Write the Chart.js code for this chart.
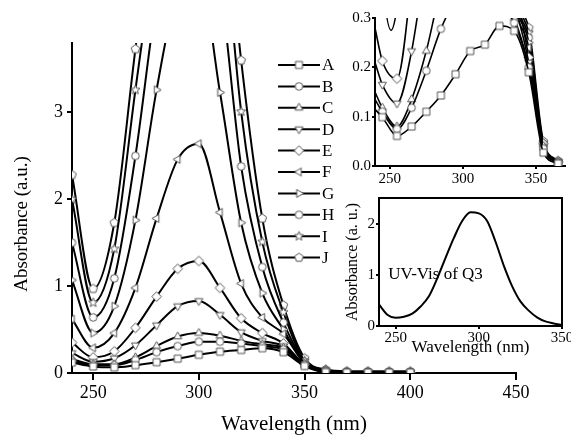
<!DOCTYPE html>
<html>
<head>
<script src="https://cdn.jsdelivr.net/npm/chart.js"></script>
<style>
  body { margin: 0; background: #fff; overflow: hidden; }
  #wrap { position: relative; width: 571px; height: 436px; overflow: hidden; }
  canvas { position: absolute; }
  #main { left: 0; top: 0; }
  #inset1 { left: 330px; top: 0; }
  #inset2 { left: 330px; top: 188px; }
</style>
</head>
<body>
<div id="wrap">
  <canvas id="main" width="571" height="436"></canvas>
  <canvas id="inset1" width="241" height="190"></canvas>
  <canvas id="inset2" width="260" height="170"></canvas>
</div>
<script>
// main plot: wavelength grid and the ten spectra
const wl = [240, 250, 260, 270, 280, 290, 300, 310, 320, 330, 340, 350, 360, 370, 380, 390, 400];
const A = [0.12, 0.075, 0.065, 0.09, 0.125, 0.165, 0.21, 0.245, 0.265, 0.285, 0.24, 0.08, 0.01, 0.005, 0.005, 0.005, 0.005];
const B = [0.14, 0.09, 0.09, 0.15, 0.24, 0.31, 0.36, 0.36, 0.34, 0.31, 0.27, 0.09, 0.012, 0.005, 0.005, 0.005, 0.005];
const C = [0.16, 0.1, 0.1, 0.18, 0.31, 0.42, 0.46, 0.43, 0.37, 0.33, 0.29, 0.09, 0.015, 0.006, 0.005, 0.005, 0.005];
const D = [0.23, 0.13, 0.17, 0.32, 0.55, 0.77, 0.83, 0.67, 0.47, 0.37, 0.31, 0.1, 0.015, 0.006, 0.005, 0.005, 0.005];
const E = [0.35, 0.18, 0.25, 0.52, 0.88, 1.2, 1.29, 0.98, 0.63, 0.46, 0.34, 0.1, 0.02, 0.008, 0.006, 0.005, 0.005];
const F = [0.62, 0.29, 0.46, 0.98, 1.78, 2.46, 2.64, 1.85, 1.03, 0.64, 0.45, 0.11, 0.02, 0.008, 0.006, 0.005, 0.005];
const G = [1.07, 0.46, 0.77, 1.76, 3.26, 4.4, 4.6, 3.23, 1.73, 0.92, 0.5, 0.12, 0.025, 0.01, 0.008, 0.006, 0.006];
const H = [1.5, 0.64, 1.09, 2.5, 4.3, 5.5, 5.7, 4.5, 2.38, 1.22, 0.58, 0.13, 0.03, 0.012, 0.01, 0.008, 0.008];
const I = [2.0, 0.81, 1.43, 3.26, 5.0, 6.5, 6.8, 5.5, 3.01, 1.51, 0.7, 0.14, 0.035, 0.015, 0.012, 0.01, 0.01];
const J = [2.28, 0.97, 1.73, 3.73, 5.5, 7.0, 7.3, 6.0, 3.6, 1.78, 0.78, 0.17, 0.04, 0.02, 0.02, 0.02, 0.02];
const names = ["A", "B", "C", "D", "E", "F", "G", "H", "I", "J"];
const shapes = ["square", "circle", "triUp", "triDown", "diamond", "triLeft", "triRight", "circle", "star", "pentagon"];
const xTicks = [250, 300, 350, 400, 450];
const yTicks = [0, 1, 2, 3];

// top inset (zoom of low absorbance)
const insetWl = [240, 245, 255, 265, 275, 285, 295, 305, 315, 325, 335, 345, 355, 365];
const insetA = [0.115, 0.099, 0.061, 0.08, 0.11, 0.143, 0.186, 0.233, 0.246, 0.284, 0.274, 0.19, 0.027, 0.005];
const insetB = [0.135, 0.11, 0.075, 0.118, 0.193, 0.278, 0.335, 0.36, 0.35, 0.33, 0.29, 0.2, 0.035, 0.006];
const insetC = [0.15, 0.118, 0.08, 0.135, 0.233, 0.36, 0.44, 0.45, 0.4, 0.35, 0.3, 0.2, 0.04, 0.007];
const insetD = [0.21, 0.165, 0.127, 0.233, 0.43, 0.66, 0.82, 0.76, 0.55, 0.41, 0.33, 0.21, 0.04, 0.008];
const insetE = [0.28, 0.213, 0.177, 0.38, 0.7, 1.05, 1.27, 1.15, 0.8, 0.53, 0.38, 0.22, 0.045, 0.008];
const insetFWl = [240, 245, 251, 255, 265, 325, 335, 345, 355, 365];
const insetF = [0.62, 0.38, 0.275, 0.32, 0.6, 0.6, 0.33, 0.24, 0.04, 0.008];
const insetHiWl = [325, 335, 345, 355, 365];
const insetG = [0.8, 0.36, 0.25, 0.04, 0.008];
const insetH = [1.0, 0.38, 0.26, 0.045, 0.009];
const insetI = [1.2, 0.4, 0.27, 0.045, 0.01];
const insetJ = [1.4, 0.42, 0.28, 0.05, 0.01];
const inset1XTicks = [250, 300, 350];
const inset1YTicks = [0, 0.1, 0.2, 0.3];

// bottom inset: UV-Vis of Q3
const q3Wl = [240, 245, 250, 255, 260, 265, 270, 275, 280, 285, 290, 295, 300, 305, 310, 315, 320, 325, 330, 335, 340, 345, 350];
const q3Abs = [0.42, 0.22, 0.16, 0.18, 0.24, 0.38, 0.58, 0.93, 1.33, 1.72, 2.05, 2.22, 2.2, 2.05, 1.65, 1.18, 0.78, 0.48, 0.3, 0.17, 0.09, 0.05, 0.02];
const inset2XTicks = [250, 300, 350];
const inset2YTicks = [0, 1, 2];

const SERIF = "Liberation Serif";

function makeMarker(shape) {
  const c = document.createElement("canvas");
  c.width = 13;
  c.height = 13;
  const g = c.getContext("2d");
  g.translate(6.5, 6.5);
  g.fillStyle = "#fff";
  g.strokeStyle = "#555";
  g.lineWidth = 1;
  g.beginPath();
  function poly(n, r, start) {
    for (let k = 0; k < n; k++) {
      const a = (start + k * 360 / n) * Math.PI / 180;
      if (k === 0) g.moveTo(r * Math.cos(a), r * Math.sin(a));
      else g.lineTo(r * Math.cos(a), r * Math.sin(a));
    }
  }
  if (shape === "square") g.rect(-3.5, -3.5, 7, 7);
  else if (shape === "circle") g.arc(0, 0, 3.8, 0, Math.PI * 2);
  else if (shape === "triUp") poly(3, 4.6, -90);
  else if (shape === "triDown") poly(3, 4.6, 90);
  else if (shape === "triLeft") poly(3, 4.6, 180);
  else if (shape === "triRight") poly(3, 4.6, 0);
  else if (shape === "diamond") poly(4, 4.8, 0);
  else if (shape === "pentagon") poly(5, 4.5, -90);
  else if (shape === "star") {
    for (let k = 0; k < 10; k++) {
      const r = k % 2 === 0 ? 4.8 : 2.1;
      const a = (-90 + k * 36) * Math.PI / 180;
      if (k === 0) g.moveTo(r * Math.cos(a), r * Math.sin(a));
      else g.lineTo(r * Math.cos(a), r * Math.sin(a));
    }
  }
  g.closePath();
  g.fill();
  g.stroke();
  return c;
}

const markers = shapes.map(makeMarker);

function pairs(xs, ys) {
  return ys.map((v, k) => ({ x: xs[k], y: v }));
}

function axis(min, max, ticks, opts) {
  return {
    type: "linear",
    min: min,
    max: max,
    afterBuildTicks: s => { s.ticks = ticks.map(v => ({ value: v })); },
    afterFit: opts.fit,
    grid: { display: true, drawOnChartArea: false, drawTicks: true, tickLength: opts.tickLength, color: "#000", lineWidth: opts.lw },
    border: { display: true, color: "#000", width: opts.lw },
    ticks: { color: "#000", font: { family: SERIF, size: opts.fontSize }, padding: opts.padding, maxRotation: 0, autoSkip: false, callback: opts.fmt || (v => v) },
    title: opts.title || { display: false }
  };
}

// ---- main chart ----
const mainSeries = [A, B, C, D, E, F, G, H, I, J];

const sideLegend = {
  id: "sideLegend",
  afterDraw(chart) {
    const ctx = chart.ctx;
    ctx.save();
    names.forEach((n, i) => {
      const y = 65 + i * 21.4;
      ctx.strokeStyle = "#000";
      ctx.lineWidth = 2;
      ctx.beginPath();
      ctx.moveTo(278, y);
      ctx.lineTo(320, y);
      ctx.stroke();
      const m = markers[i];
      ctx.drawImage(m, 299 - m.width / 2, y - m.height / 2);
      ctx.fillStyle = "#000";
      ctx.font = "17px " + SERIF;
      ctx.textBaseline = "middle";
      ctx.fillText(n, 322, y + 1);
    });
    // y axis title, sits a little below the plot centre
    ctx.translate(22, 224);
    ctx.rotate(-Math.PI / 2);
    ctx.textAlign = "center";
    ctx.textBaseline = "middle";
    ctx.font = "19px " + SERIF;
    ctx.fillText("Absorbance (a.u.)", 0, 0);
    ctx.restore();
  }
};

new Chart(document.getElementById("main"), {
  type: "line",
  data: {
    datasets: mainSeries.map((s, i) => ({
      label: names[i],
      data: pairs(wl, s),
      borderColor: "#000",
      borderWidth: 2,
      pointStyle: markers[i],
      pointRadius: 4,
      cubicInterpolationMode: "monotone",
      fill: false
    }))
  },
  options: {
    responsive: false,
    animation: false,
    devicePixelRatio: 1,
    layout: { padding: { top: 43, right: 55, left: 0, bottom: 0 } },
    plugins: { legend: { display: false }, tooltip: { enabled: false } },
    scales: {
      x: axis(240, 450, xTicks, {
        fit: s => { s.height = 63; }, tickLength: 7, lw: 2, fontSize: 18, padding: 2,
        title: { display: true, text: "Wavelength (nm)", color: "#000", font: { family: SERIF, size: 21, lineHeight: 1 }, padding: { top: 0, bottom: 1 } }
      }),
      y: axis(0, 3.8, yTicks, {
        fit: s => { s.width = 72; }, tickLength: 5, lw: 2, fontSize: 18, padding: 4
      })
    }
  },
  plugins: [sideLegend]
});

// ---- top inset ----
const insetSets = [
  [insetWl, insetA], [insetWl, insetB], [insetWl, insetC], [insetWl, insetD], [insetWl, insetE],
  [insetFWl, insetF], [insetHiWl, insetG], [insetHiWl, insetH], [insetHiWl, insetI], [insetHiWl, insetJ]
];

new Chart(document.getElementById("inset1"), {
  type: "line",
  data: {
    datasets: insetSets.map((s, i) => ({
      label: names[i],
      data: pairs(s[0], s[1]),
      borderColor: "#000",
      borderWidth: 1.6,
      pointStyle: markers[i],
      pointRadius: c => (c.raw && c.raw.x % 10 === 5 ? 4 : 0),
      cubicInterpolationMode: "monotone",
      fill: false
    }))
  },
  options: {
    responsive: false,
    animation: false,
    devicePixelRatio: 1,
    layout: { padding: { top: 18, right: 5, left: 0, bottom: 0 } },
    plugins: { legend: { display: false }, tooltip: { enabled: false } },
    scales: {
      x: axis(240, 370, inset1XTicks, { fit: s => { s.height = 24; }, tickLength: 3, lw: 2, fontSize: 15, padding: 1 }),
      y: axis(0, 0.3, inset1YTicks, { fit: s => { s.width = 45; }, tickLength: 3, lw: 2, fontSize: 15, padding: 1, fmt: v => v.toFixed(1) })
    }
  }
});

// ---- bottom inset ----
const frameAndLabel = {
  id: "frameAndLabel",
  afterDraw(chart) {
    const ctx = chart.ctx;
    const a = chart.chartArea;
    ctx.save();
    ctx.strokeStyle = "#000";
    ctx.lineWidth = 2;
    ctx.strokeRect(a.left, a.top, a.right - a.left, a.bottom - a.top);
    ctx.fillStyle = "#000";
    ctx.font = "17px " + SERIF;
    ctx.textBaseline = "middle";
    ctx.fillText("UV-Vis of Q3", chart.scales.x.getPixelForValue(245.5), chart.scales.y.getPixelForValue(1.0));
    ctx.restore();
  }
};

new Chart(document.getElementById("inset2"), {
  type: "line",
  data: {
    datasets: [{
      label: "Q3",
      data: pairs(q3Wl, q3Abs),
      borderColor: "#000",
      borderWidth: 2,
      pointRadius: 0,
      cubicInterpolationMode: "monotone",
      fill: false
    }]
  },
  options: {
    responsive: false,
    animation: false,
    devicePixelRatio: 1,
    layout: { padding: { top: 2, right: 28, left: 0, bottom: 0 } },
    plugins: { legend: { display: false }, tooltip: { enabled: false } },
    scales: {
      x: axis(240, 350, inset2XTicks, {
        fit: s => { s.height = 32; }, tickLength: 3, lw: 2, fontSize: 15, padding: 0,
        title: { display: true, text: "Wavelength (nm)", color: "#000", font: { family: SERIF, size: 17, lineHeight: 1 }, padding: { top: 0, bottom: 2 } }
      }),
      y: axis(0, 2.5, inset2YTicks, {
        fit: s => { s.width = 49; }, tickLength: 3, lw: 2, fontSize: 15, padding: 1,
        title: { display: true, text: "Absorbance (a. u.)", color: "#000", font: { family: SERIF, size: 16, lineHeight: 1 }, padding: { top: 15, bottom: 0 } }
      })
    }
  },
  plugins: [frameAndLabel]
});
</script>
</body>
</html>
